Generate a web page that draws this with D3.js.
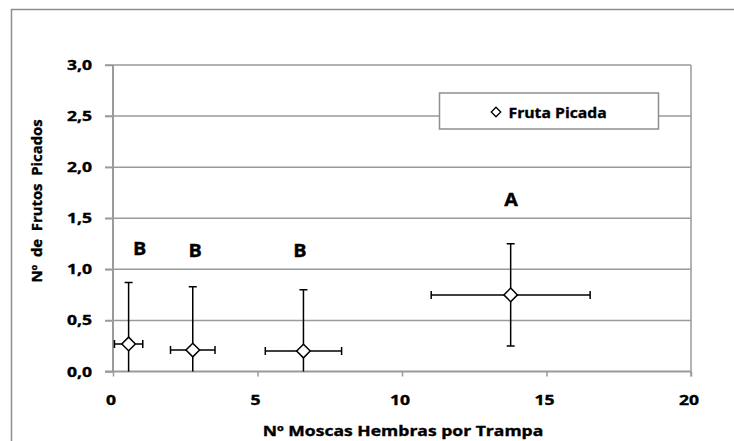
<!DOCTYPE html>
<html>
<head>
<meta charset="utf-8">
<script src="https://cdn.jsdelivr.net/npm/d3@7"></script>
<style>
  html, body { margin: 0; padding: 0; background: #fff; overflow: hidden; width: 734px; height: 441px; }
  svg { display: block; }
  text { font-family: "Open Sans", "Liberation Sans", sans-serif; font-weight: bold; fill: #000; stroke: #000; stroke-width: 0.35px; }
</style>
</head>
<body>
<svg id="chart" width="734" height="441"></svg>
<script>
// ---- data ----
const seriesName = "Fruta Picada";
const xMeans = [0.54, 2.76, 6.59, 13.76];
const yMeans = [0.27, 0.21, 0.20, 0.75];
const xErr   = [0.49, 0.77, 1.32, 2.75];
const yErr   = [0.60, 0.62, 0.60, 0.50];
const groupLetters = ["B", "B", "B", "A"];
const letterX = [0.92, 2.84, 6.47, 13.77];
const letterY = [1.14, 1.12, 1.12, 1.62];
const xTicks = [0, 5, 10, 15, 20];
const yTicks = [0, 0.5, 1.0, 1.5, 2.0, 2.5, 3.0];
const xTitle = "Nº Moscas Hembras por Trampa";
const yTitle = "Nº  de  Frutos  Picados";

// ---- layout ----
const W = 734, H = 441;
const plot = { left: 113, right: 691, top: 65, bottom: 371.5 };
const grid = "#9a9a9a";

const svg = d3.select("#chart");
const x = d3.scaleLinear().domain([0, 20]).range([plot.left, plot.right]);
const y = d3.scaleLinear().domain([0, 3]).range([plot.bottom, plot.top]);

// helper: stretched text placed at (px,py)
function stext(parent, px, py, str, size, sx, anchor, rot) {
  const g = parent.append("g")
    .attr("transform", `translate(${px},${py})` + (rot ? ` rotate(${rot})` : "") + ` scale(${sx},1)`);
  return g.append("text").attr("x", 0).attr("y", 0)
    .attr("font-size", size).attr("text-anchor", anchor || "start")
    .style("white-space", "pre").text(str);
}

// outer chart border: left and top edges only
svg.append("line").attr("x1", 11.5).attr("x2", 11.5).attr("y1", 9).attr("y2", H)
  .attr("stroke", "#8f8f8f").attr("stroke-width", 1.5);
svg.append("line").attr("x1", 11).attr("x2", W).attr("y1", 9.5).attr("y2", 9.5)
  .attr("stroke", "#8f8f8f").attr("stroke-width", 1.5);

// gridlines (with left tick stubs)
svg.append("g").selectAll("line").data(yTicks.filter(d => d > 0)).join("line")
  .attr("x1", plot.left - 8).attr("x2", plot.right)
  .attr("y1", d => y(d)).attr("y2", d => y(d))
  .attr("stroke", grid).attr("stroke-width", 1.5);

// y axis via d3
const yAxis = d3.axisLeft(y).tickValues(yTicks).tickSize(8).tickFormat("");
const gy = svg.append("g").attr("transform", `translate(${plot.left},0)`).call(yAxis);
gy.select(".domain").attr("stroke", grid).attr("stroke-width", 2).attr("d", `M-8,${plot.bottom}H0V${plot.top}`);
gy.selectAll(".tick line").attr("stroke", grid).attr("stroke-width", 1.5);

// x axis via d3
const xAxis = d3.axisBottom(x).tickValues(xTicks).tickSize(5).tickFormat("");
const gx = svg.append("g").attr("transform", `translate(0,${plot.bottom})`).call(xAxis);
gx.select(".domain").attr("stroke", grid).attr("stroke-width", 2).attr("d", `M${plot.left},0H${plot.right}`);
gx.selectAll(".tick line").attr("stroke", grid).attr("stroke-width", 1.5);

// right border of plot area
svg.append("line").attr("x1", plot.right).attr("x2", plot.right)
  .attr("y1", plot.top).attr("y2", plot.bottom + 5)
  .attr("stroke", grid).attr("stroke-width", 1.5);

// tick labels
const yFmt = d => d3.format(".1f")(d).replace(".", ",");
yTicks.forEach(t => stext(svg, 92, y(t) + 5, yFmt(t), 13.5, 1.3, "end"));
xTicks.forEach(t => stext(svg, x(t) - 2, 405, String(t), 13.5, 1.3, "middle"));

// axis titles
stext(svg, (plot.left + plot.right) / 2 + 1, 436, xTitle, 13.5, 1.3, "middle");
stext(svg, 42, 201, yTitle, 13.5, 1.1, "middle", -90);

// error bars + markers, clipped to plot area
svg.append("clipPath").attr("id", "clip").append("rect")
  .attr("x", plot.left - 1).attr("y", plot.top - 1)
  .attr("width", plot.right - plot.left + 2).attr("height", plot.bottom - plot.top + 1);

const pts = xMeans.map((v, i) => ({ x: v, y: yMeans[i], ex: xErr[i], ey: yErr[i] }));
const eg = svg.append("g").attr("clip-path", "url(#clip)")
  .attr("stroke", "#000").attr("stroke-width", 1.5).attr("fill", "none");
const cap = 4;
pts.forEach(p => {
  const cx = x(p.x), cy = y(p.y);
  const xl = x(p.x - p.ex), xr = x(p.x + p.ex), yt = y(p.y + p.ey), yb = y(p.y - p.ey);
  eg.append("path").attr("d",
    `M${xl},${cy}H${xr}M${xl},${cy - cap}V${cy + cap}M${xr},${cy - cap}V${cy + cap}` +
    `M${cx},${yt}V${yb}M${cx - cap},${yt}H${cx + cap}M${cx - cap},${yb}H${cx + cap}`);
});

const diamondType = { draw(ctx, s) { const r = Math.sqrt(s) / 2; ctx.moveTo(0, -r); ctx.lineTo(r, 0); ctx.lineTo(0, r); ctx.lineTo(-r, 0); ctx.closePath(); } };
svg.append("g").selectAll("path").data(pts).join("path")
  .attr("transform", d => `translate(${x(d.x)},${y(d.y)})`)
  .attr("d", d3.symbol().type(diamondType).size(185))
  .attr("fill", "#fff").attr("stroke", "#000").attr("stroke-width", 1.5);

// group letters
groupLetters.forEach((L, i) => stext(svg, x(letterX[i]), y(letterY[i]), L, 18, 1.1, "middle"));

// legend
svg.append("rect").attr("x", 439.5).attr("y", 93).attr("width", 219).attr("height", 36)
  .attr("fill", "#fff").attr("stroke", "#8f8f8f").attr("stroke-width", 1.5);
svg.append("path").attr("transform", "translate(496,112)")
  .attr("d", d3.symbol().type(diamondType).size(90))
  .attr("fill", "#fff").attr("stroke", "#000").attr("stroke-width", 1.3);
stext(svg, 508.5, 118, seriesName, 15, 1.05, "start");
</script>
</body>
</html>
